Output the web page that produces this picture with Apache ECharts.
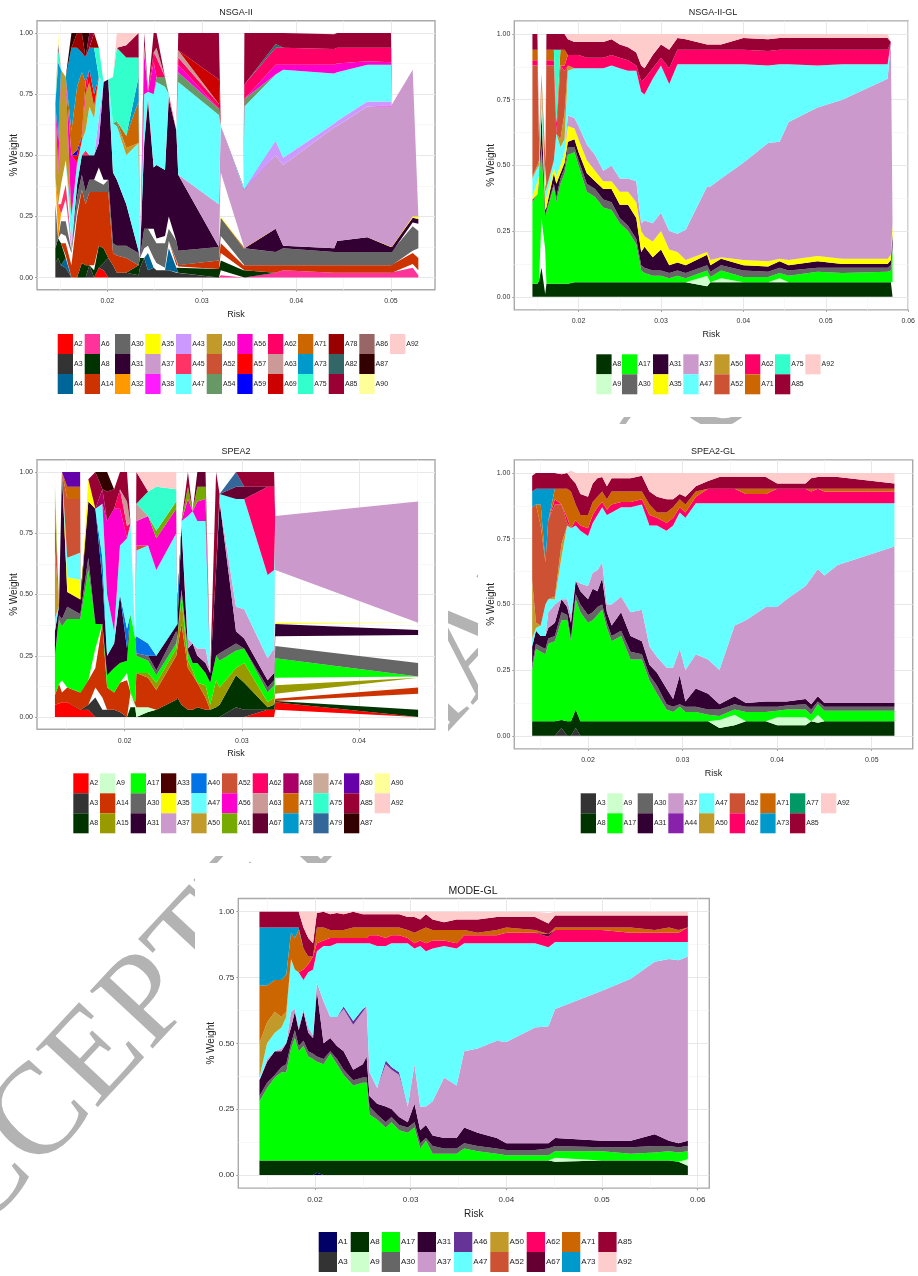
<!DOCTYPE html>
<html><head><meta charset="utf-8"><style>html,body{margin:0;padding:0;background:#fff}#c{width:918px;height:1276px}#c canvas{filter:blur(.4px)}</style>
<script src="https://cdn.jsdelivr.net/npm/echarts@6/dist/echarts.min.js"></script></head><body><div id="c"></div>
<script>
const colors={A1:'#000066',A2:'#ff0000',A3:'#333333',A4:'#006699',A6:'#ff3399',A8:'#003300',A9:'#ccffcc',A14:'#cc3300',A15:'#999900',A17:'#00ff00',A30:'#666666',A31:'#330033',A32:'#ff9900',A33:'#4d0000',A35:'#ffff00',A37:'#cc99cc',A38:'#ff1aff',A40:'#0073e6',A43:'#cc99ff',A44:'#8822aa',A45:'#ff3366',A46:'#663399',A47:'#66ffff',A50:'#c29a29',A52:'#cc5233',A54:'#669966',A56:'#ff00cc',A57:'#ff0000',A59:'#0000ff',A61:'#77aa00',A62:'#ff0066',A63:'#cc9999',A67:'#660033',A68:'#aa0066',A69:'#cc0000',A71:'#cc6600',A73:'#0099cc',A74:'#ccaa99',A75:'#33ffcc',A77:'#009966',A78:'#990000',A79:'#336699',A80:'#6600aa',A82:'#336666',A85:'#990033',A86:'#996666',A87:'#330000',A90:'#ffff99',A92:'#ffcccc'};
// x in 0.001 risk units, band thickness in percent. Objects are index:value lists of the non-zero points.
// NSGA-II
const n_x=[14.5,14.8,15.1,15.6,16.2,16.8,17.3,17.7,18.1,18.6,19.1,19.6,20.1,20.6,21,22,23.3,23.45,23.9,24.3,24.9,25.2,26.1,26.5,27.3,27.5,31.8,32,34.4,34.5,37.8,38.6,44,44.3,47.5,50,50.1,52.3,52.9];
const n_A2={10:4,11:3};
const n_A3={0:6,1:8,2:5,3:4,8:5,11:3,12:8,13:5,14:2,15:2,16:1,17:4,18:8,19:3,20:4,21:3,22:3,23:3,24:2,25:2};
const n_A4={3:4,19:7,23:9,24:2};
const n_A6={27:1,30:2,31:3,32:2,33:2,34:2,35:2,36:2,37:4,38:1};
const n_g0={27:2};
const n_A8={0:6,1:8,2:9,6:6,7:5,9:3,10:9,11:6,16:4,17:4,25:2.5,26:3.5,27:4,28:3,29:3};
const n_g1={3:1,9:2,18:4,19:3,20:4,21:3,22:1,23:3,24:1,27:3,37:1.5,38:2};
const n_A14={3:5,4:5,5:25,6:30,7:25,8:30,9:30,10:22,11:23,12:27,13:5,14:7,15:6,25:.5,26:3.5,27:4,28:2,29:2,30:3,31:2,32:3,33:3,34:3,35:3,36:3,37:4.5,38:5};
const n_g2={2:4,3:3,4:5,5:2,27:3,37:1,38:4};
const n_A30={0:18,2:5,3:6,4:1,5:6,6:6,7:5,8:5,9:5,10:4,11:3,12:5,13:4,14:4,15:5,16:5,18:8,19:7,20:8,21:8,22:10,23:5,24:10,25:6,26:5.5,27:7.5,28:7,29:7,30:5.5,31:7,32:5.5,33:5.5,34:5.5,35:5.5,36:5.5,37:10,38:7};
const n_g3={0:11,2:3,3:9,10:6,11:2,20:4,21:2,22:3,23:5,37:1.5,38:3};
const n_A31={5:5,6:8,7:15,8:10,9:10,10:10,11:40,12:41,13:29,14:27,15:17,16:1,18:35,19:52,20:25,21:30,22:27,23:48,24:45,25:31,30:9.5,31:1,32:1.5,33:4.5,34:6,35:2,36:2,37:2,38:2};
const n_A32={1:14};
const n_A35={27:.5,28:.5,37:.5,38:1};
const n_g5={27:18};
const n_A37={26:17.5,27:19,28:23.5,29:24,30:30,31:33,32:49.5,33:47,34:53.5,35:57.5,36:58,37:60};
const n_A38={};
const n_A43={4:3,10:10,30:6,31:3,32:1.5,33:2,34:2,35:2};
const n_A45={2:4,3:6,7:2,19:2,23:2};
const n_g4={2:8,3:10};
const n_A47={4:11,5:8,6:6,7:8,8:20,9:15,10:17,13:20,14:22,15:20,16:44,18:20,19:2,20:30,21:34,22:34,25:38,26:36.5,29:34,30:27,31:36,32:20.5,33:20,34:15,35:15};
const n_A50={0:30,1:12,2:47,3:34,7:15,8:10,9:5,15:3};
const n_A52={};
const n_A54={5:1,14:2,21:2,22:4,25:4,26:2.5,29:3};
const n_A56={1:14,4:25,18:17,20:13,25:3,30:4,31:2,32:3.5,33:3.5,34:1.5,35:1};
const n_A57={5:3,6:2,8:5,9:5};
const n_A59={5:2};
const n_A62={7:5,20:4,21:8,25:3,26:2,29:6,30:7,31:7,32:6.5,33:6.5,34:5.5,35:6};
const n_A63={18:3,21:4,25:3};
const n_A69={26:10};
const n_A71={4:10,5:26,6:26,15:5,16:17};
const n_A73={1:32,4:34,5:16,6:8,7:10,8:9,9:19,16:10};
const n_A75={1:5,10:12,13:19,14:30,15:32,16:8};
const n_A78={5:6,6:8,9:6};
const n_A82={30:1.5};
const n_A85={8:6,15:5,16:10,18:5,20:8,21:6,25:7,26:19,29:21,30:4.5,31:6,32:6,33:6,34:6,35:6};
const n_A86={1:3};
const n_A87={4:6,7:10};
const n_A90={1:4};
const n_A92={14:6,15:5};
// NSGA-II-GL
const g_x=[14.4,15,15.2,15.5,15.95,16.1,17,17.3,17.8,18.3,18.7,19.5,20,21,22,23,24,25,26,27,27.6,28,29,30,31,32,33,35.6,36,37.3,40,43,44.4,45.5,49,52,57.5,57.9,58.1];
const g_A8=[5,5,6,11,1,5,5,5,5,5,5,5.5,5.5,5.5,5.5,5.5,5.5,5.5,5.5,5.5,5.5,5.5,5.5,5.5,5.5,5.5,5.5,4,5.5,5.5,5.5,5.5,5.5,5.5,5.5,5.5,5.5,5.5,5.5];
const g_g={3:19,4:17};
const g_A9={27:4,29:1.5,32:1.5};
const g_A17=[31,34,36,26,12,27,37,31,38,42,49,49.5,44.5,34.5,32.5,28.5,27.5,22.5,19.5,14.5,4.5,3.5,2.5,2.5,1.5,2.5,1.5,2,2,3,2,2,2,2.5,4,3.5,4,4.5,12.5];
const g_A30=[1,0,1,2,1,1,1,2,2,2,3,2,2,3,3,3,3,2,2,2,2,2,2,2,2,2,2,2,2,2,2.5,2,2,2,1.5,2,1.5,2,1];
const g_A31=[0,0,1,12,2,1,4,5,2,2,2,3,3,4,3,4,5,5,8,8,5,8,5,8,3,3,3,4,2.5,2.5,2,2,2.5,2,2.5,1.5,1.5,2,5];
const g_A35=[1,5,2,2,4,4,2,3,3,4,6,4,5,5,4,3,3,5,5,6,8,4,6,7,6,4,2,1,2,.5,2,2,1,2,2,2,2,2,4];
const g_A37=[0,0,0,0,0,0,0,0,0,0,4,4,5,6,6,4,6,5,5,8,3,6,7,7,7,7,11.5,25,28,30,37,45,44.5,52.5,56.5,60.5,68.5,81,69];
const g_A47=[7,5,4,8,3,3,3,16,7,5,17,19,22,29,33,39,38,42,41,42,50,48,55,56,56,64.5,63,46.5,46.5,43.5,37.5,29.5,29.5,22,16,13.5,5.5,0,0];
const g_A50={0:1,1:1,2:2,3:5,4:2,5:1,8:3,9:10,10:2};
const g_A52={0:42,1:38,2:8,5:46,6:36,8:28,9:16};
const g_A62=[2,2,0,0,0,2,2,4,0,2,4,5,5,4,4,4,4,4,4,2,4,6,4,3,6,5.5,5.5,5.5,5.5,5.5,5.5,5.5,5.5,5.5,6,5.5,5.5];
const g_A71={0:4,1:4,5:4,6:4,8:6,9:6};
const g_A75={7:28};
const g_A85=[6,6,0,0,0,6,6,6,6,6,6,5,5,6,6,6,6,5,5,5,6,4,5,5,7,4.5,4,2,2,2,4.5,4.5,4.5,4.5,4.5,4.5,4.5];
const g_A92=[0,0,0,0,0,0,0,0,0,0,2,3,3,3,3,3,2,4,5,7,12,13,8,4,6,1.5,2,4,4,4,1.5,1.5,1.5,1.5,1.5,1.5,1.5];
// SPEA2
const s_x=[14.05,14.4,14.65,15.1,16.2,16.25,16.9,17.5,18.1,18.5,19.1,19.6,20.2,20.5,20.9,21,22,22.7,24.4,24.5,24.85,25.4,25.8,26.2,26.9,27.3,27.8,28.1,29.5,30.2,32.2,32.75,32.85,45.04];
const s_g0={32:3};
const s_A2={0:5,1:5.5,2:6,3:6,4:3.5,5:3,6:3,30:3,31:3,32:3};
const s_A3={6:2,7:8,8:3,9:3,10:3,11:2,28:4,29:3};
const s_A8={13:4,14:4,16:2,17:3,18:7,19:8,20:5,21:3,22:3,23:4,24:3,25:3,26:4,27:5,28:13,29:11,30:1,31:2,32:.5,33:3};
const s_g1={7:4,8:5,13:3,33:6.5};
const s_A9={13:3,14:1,15:4,16:2};
const s_A14={0:4,1:8,2:4,3:6,4:6.5,5:7,6:10,7:8,8:30,9:9,10:7,11:12,12:15,14:1,15:14,16:12,17:8,18:18,19:20,20:33,21:17,22:14,23:10,24:5,32:1,33:2.5};
const s_g2={2:5,32:2,33:4};
const s_A15={16:2,17:3,18:3,19:5,20:10,21:3,22:2,24:5,25:2,26:11,27:7,28:3,29:8,30:2,31:3,32:3.5};
const s_g3={7:8,12:3,32:3};
const s_A17={0:16,1:26,2:22,3:28,4:30,5:31,6:45,7:10,9:5,10:10,11:8,12:5,13:32,14:26,15:7,16:5,17:3,18:2,20:4,21:3,22:3,23:8,24:5,25:9,26:10,27:11,28:7,29:6,30:4,31:5,32:8,33:.5};
const s_A30={1:2,2:3,3:5,4:2,5:2,6:5,15:1,16:2,17:2,18:5,21:1,27:3,28:3,30:2,31:2,32:5,33:5.5};
const s_g5={32:4,33:11.5};
const s_A31={0:10,1:4,2:60,3:6,4:6,5:5,6:23,7:47,8:18,9:8,10:10,11:28,12:5,17:6,18:3,19:5,20:26,21:1,22:8,23:3,24:4,25:4,26:35,27:62,28:5,29:4,30:3,31:3,32:5,33:2};
const s_A33={};
const s_g4={33:2.5};
const s_A35={3:6,4:8,6:9,32:.5,33:.5};
const s_g6={32:21.5};
const s_A37={21:4,23:3,24:6,28:10,29:12,30:9,31:10,32:22,33:49.5};
const s_A40={8:9,12:8,15:7,16:5};
const s_A47={0:5,3:8,4:11,8:22,9:25,10:5,11:20,12:37,13:37,15:35,16:40,17:35,18:37,20:2,21:50,22:54,23:52,24:52,27:3,28:44,29:45,30:34,31:32};
const s_A50={0:28};
const s_A52={0:17,3:24,4:22,15:2};
const s_A56={9:30,10:50,11:15,15:10,16:12,17:13,18:10,21:7,23:8,24:9};
const s_A61={0:9,17:3,18:3,21:5,23:6,24:5};
const s_A62={11:8,12:5,30:36,31:34};
const s_A63={12:10,15:7};
const s_A67={23:6,24:6,28:5,29:5};
const s_A68={8:6};
const s_A71={3:5,4:5};
const s_A73={};
const s_A74={};
const s_A75={16:10,17:18,18:5};
const s_A79={28:6};
const s_A80={3:6,4:6};
const s_A85={7:15,9:12,10:8,11:7,12:12,15:13,21:6,26:40,29:6,30:6,31:6};
const s_A87={8:7,9:8};
const s_A90={0:6};
const s_A92={16:8,17:6,18:7};
// SPEA2-GL
const t_x=[14.1,14.5,15,15.5,15.8,16.5,17.2,17.8,18.2,18.7,19.2,20,20.5,21,21.5,22,22.5,23.5,24.5,25.7,26.5,27.3,28.3,29,29.7,30.3,31.4,32.7,33.9,35.5,36.7,38.8,40,41,43,43.6,44.3,45,46.4,52.4];
const t_A3={6:3,9:3};
const t_A8=[5.5,5.5,5.5,5.5,5.5,5.5,3,5.5,5.5,7,5.5,5.5,5.5,5.5,5.5,5.5,5.5,5.5,5.5,5.5,5.5,5.5,5.5,5.5,5.5,5.5,5.5,5.5,3,4,5.5,5.5,4,4,4,5.5,5,5.5,5.5,5.5];
const t_A9={28:3,29:4,32:3,33:3,34:3,36:3};
const t_A17=[19.5,27.5,26.5,25.5,29.5,30.5,38,38.5,30.5,42,41.5,37.5,38.5,40.5,42.5,35.5,30.5,32.5,23.5,23.5,15.5,10.5,4.5,3.5,5.5,3.5,3.5,2.5,1.5,2,3.5,3.5,2.5,3,3,2.5,4,4,4,4];
const t_A30=[2,2,2,2,2,2,3,2,1,2,3,3,3,3,2,2,2,2,3,2,2,3,2,2,1,2,2,2,2.5,2,2,2,1.5,1.5,2,2,1,1.5,1.5,1.5];
const t_A31=[7,5,4,5,4,5,5,3,6,5,5,6,9,6,10,4,4,7,6,5,4,5,6,3,11,2,7,6,2,3,1.5,2,2,1.5,2,2,2,1.5,1.5,1.5];
const t_A37=[0,0,0,0,6,7,0,3,3,0,3,5,6,8,6,3,8,6,9,12,7,6,8,12,10,12,13,13,13,27,31.5,36,36,39,43,48,48.5,48.5,52.5,59.5];
const t_A44={};
const t_A47=[3,1,4,12,5,2,16,28,33,21,20,19,19,21,21,34,35,34,40,40,46,50,52,54,52,58,57.5,59.5,63.5,46.5,44.5,39.5,39.5,36.5,31.5,28.5,25,27.5,23.5,16.5];
const t_A50={0:22,1:2,5:1,6:5};
const t_A52={0:28,1:45,2:38,3:16,4:30,5:35,6:15,7:1};
const t_A62=[0,0,0,0,0,2,0,2,0,2,2,3,3,3,2,2,3,2,2,2,4,3,3,3,2,2,2.5,5.5,5.5,5.5,3.5,3.5,5.5,5.5,5.5,4.5,5.5,4.5,4.5,4.5];
const t_A71=[0,0,8,0,0,4,6,11,14,6,4,5,5,4,4,4,5,4,4,3,4,2,4,4,3,3,2,0,0,0,2,2,0,0,0,1,0,1,1,1];
const t_A73={0:6,1:6,2:6,3:28,4:12};
const t_A77={};
const t_A85=[6,6,6,6,6,6,5.5,6,5,8,8,7,7,7,5.5,5,5,5,5,6,5,6,5,3,2,3,2,3,4.5,4.5,4.5,4.5,2,2,2,4,4.5,4.5,4.5,2];
const t_A92=[0,0,0,0,0,0,.5,0,3,4,8,9,4,2,1.5,5,2,2,2,1,7,9,10,10,8,9,5,3,1.5,1.5,1.5,1.5,4,4,4,2,1.5,1.5,1.5,4];
// MODE-GL
const m_x=[14.2,15,15.8,16.5,17,17.5,17.9,18.3,18.8,19.3,19.8,20.2,20.9,21.6,22.3,23,24,25,25.4,25.7,26.5,27.4,28,28.8,29.7,30.4,31,31.6,32.3,33.5,34.8,35.6,37,39,40,43,44.4,45.1,50,53,55.5,57,58,58.97];
const m_A1={11:.8};
const m_A3={};
const m_A8=[5.5,5.5,5.5,5.5,5.5,5.5,5.5,5.5,5.5,5.5,5.5,4.7,5.5,5.5,5.5,5.5,5.5,5.5,5.5,5.5,5.5,5.5,5.5,5.5,5.5,5.5,5.5,5.5,5.5,5.5,5.5,5.5,5.5,5.5,5.5,5.5,5.5,5,5.5,5.5,5.5,5.5,5,3.5];
const m_A9={37:1.5,43:2.5};
const m_A17=[22.5,27.5,31.5,33.5,33.5,42.5,46.5,41.5,43.5,39.5,38.5,37.5,36.5,40.5,36.5,32.5,28.5,29.5,29.5,17.5,15.5,12.5,14.5,11.5,10.5,12.5,4.5,7.5,2.5,2.5,2.5,4.5,3.5,2.5,2,2,2,2.5,3.5,2.5,3,3.5,3.5,3];
const m_A30=[2,2,1,2,3,2,3,2,2,2,2,2,2,1,2,2,2,2,2,3,2,2,2,2,2,2,2,1,3,2,2,2,2,2,2,2,2.5,2,1.5,2.5,2.5,2,2,2];
const m_A31=[6,8,9,6,8,6,7,6,11,7,6,25,6,5,5,7,4,5,8,4,4,6,3,3,2,7,5,5,4,4,4,6,5,4,2.5,2.5,2,3,2.5,2.5,4.5,2,1.5,2];
const m_A37=[0,1,0,1,0,6,1,1,1,2,1,3,16,8,11,16,17,20,19,9,6,16,15,16,6,15,9,7,13,23,20,29,32,37,38.5,44,44.5,49,57,61.5,65.5,69,69.5,70];
const m_A46={15:1,16:1.5,17:1,21:1.5,22:1,23:1};
const m_A47=[1,6,7,8,10,20,15,21,11,21,25,12,21,27,28,24,29.5,25,24,49,54,43.5,47,49,62,44,61,59,58,50,52,41,40,37,37.5,32,30,25.5,18.5,14,7.5,6.5,7,5.5];
const m_A50={0:13,1:8,2:8,3:4,4:2};
const m_A52={};
const m_A62=[0,0,0,0,0,0,0,0,4,3,5,3,2,3,2,2,2,2,2,3,4,3,3,3,2,2,2,3,3,2,2,3,3,3,4,4,4,4.5,4.5,3.5,3.5,3.5,3.5,5.5];
const m_A67={36:1};
const m_A71=[22,14,12,14,14,10,12,16,8,3,0,6,5,3,3,3,4,4,4,3,3,4,3,3,3,4,4,6,4,4,5,2,1,2,2,1,0,1,1,2,1,2,1,0];
const m_A73={0:22,1:22,2:20,3:20,4:18,5:2,6:4,7:1};
const m_A85=[6,6,6,6,6,6,6,6,8,7,5,5.5,6,6,6.5,6,6,5,5,5,5,5,5,5,5,6,4,5,4,3,4,4,5,5,4,5,4,4.5,4.5,4.5,5.5,4.5,5.5,4.5];
const m_A92=[0,0,0,0,0,0,0,0,6,10,12,.5,0,1,.5,1,0,1,1,1,1,1,1,1,2,2,3,1,3,4,3,3,3,2,2,2,4,1.5,1.5,1.5,1.5,1.5,1.5,1.5];

const panels=[
{title:'NSGA-II',x:n_x,range:[.01256,.05466],ticks:[.02,.03,.04,.05],minor:[.015,.025,.035,.045],box:[37,20.8,398,269],tc:[236,12],fs:[9,7,9,7],sw:15.3,legTop:334,yGap:18,
 layers:[['A2',n_A2],['A3',n_A3],['A4',n_A4],['A6',n_A6],['gap',n_g0],['A8',n_A8],['gap',n_g1],['A14',n_A14],['gap',n_g2],['A30',n_A30],['gap',n_g3],['A31',n_A31],['A32',n_A32],['A35',n_A35],['gap',n_g5],['A37',n_A37],['A38',n_A38],['A43',n_A43],['A45',n_A45],['gap',n_g4],['A47',n_A47],['A50',n_A50],['A52',n_A52],['A54',n_A54],['A56',n_A56],['A57',n_A57],['A59',n_A59],['A62',n_A62],['A63',n_A63],['A69',n_A69],['A71',n_A71],['A73',n_A73],['A75',n_A75],['A78',n_A78],['A82',n_A82],['A85',n_A85],['A86',n_A86],['A87',n_A87],['A90',n_A90],['A92',n_A92]],
 legend:[['A2','A3','A4'],['A6','A8','A14'],['A30','A31','A32'],['A35','A37','A38'],['A43','A45','A47'],['A50','A52','A54'],['A56','A57','A59'],['A62','A63','A69'],['A71','A73','A75'],['A78','A82','A85'],['A86','A87','A90'],['A92']],
 legX:[57.7,84.7,115,145.3,176,206.7,237.3,268,298,328.7,359.3,390]},
{title:'NSGA-II-GL',x:g_x,range:[.0122,.06],ticks:[.02,.03,.04,.05,.06],minor:[.015,.025,.035,.045,.055],box:[514.3,20.9,396.7,289],tc:[713,12],fs:[9,7,9,7],sw:15.3,legTop:354.3,yGap:18,
 layers:[['A8',g_A8],['gap',g_g],['A9',g_A9],['A17',g_A17],['A30',g_A30],['A31',g_A31],['A35',g_A35],['A37',g_A37],['A47',g_A47],['A50',g_A50],['A52',g_A52],['A62',g_A62],['A71',g_A71],['A75',g_A75],['A85',g_A85],['A92',g_A92]],
 legend:[['A8','A9'],['A17','A30'],['A31','A35'],['A37','A47'],['A50','A52'],['A62','A71'],['A75','A85'],['A92']],
 legX:[596.3,622,653,683.3,714.3,745,775,805.3]},
{title:'SPEA2',x:s_x,range:[.01252,.04648],ticks:[.02,.03,.04],minor:[.015,.025,.035,.045],box:[37,459.75,398,269.5],tc:[236,451],fs:[9,7,9,7],sw:15.3,legTop:773.3,yGap:18,
 layers:[['gap',s_g0],['A2',s_A2],['A3',s_A3],['A8',s_A8],['gap',s_g1],['A9',s_A9],['A14',s_A14],['gap',s_g2],['A15',s_A15],['gap',s_g3],['A17',s_A17],['A30',s_A30],['gap',s_g5],['A31',s_A31],['A33',s_A33],['gap',s_g4],['A35',s_A35],['gap',s_g6],['A37',s_A37],['A40',s_A40],['A47',s_A47],['A50',s_A50],['A52',s_A52],['A56',s_A56],['A61',s_A61],['A62',s_A62],['A63',s_A63],['A67',s_A67],['A68',s_A68],['A71',s_A71],['A73',s_A73],['A74',s_A74],['A75',s_A75],['A79',s_A79],['A80',s_A80],['A85',s_A85],['A87',s_A87],['A90',s_A90],['A92',s_A92]],
 legend:[['A2','A3','A8'],['A9','A14','A15'],['A17','A30','A31'],['A33','A35','A37'],['A40','A47','A50'],['A52','A56','A61'],['A62','A63','A67'],['A68','A71','A73'],['A74','A75','A79'],['A80','A85','A87'],['A90','A92']],
 legX:[73.3,100,130.7,161,191.3,222,252.7,283.3,313.3,344,374.7]},
{title:'SPEA2-GL',x:t_x,range:[.01221,.05433],ticks:[.02,.03,.04,.05],minor:[.015,.025,.035,.045],box:[514.3,459.9,398.4,289],tc:[713,451],fs:[9,7,9,7],sw:15.3,legTop:793.3,yGap:18,
 layers:[['A3',t_A3],['A8',t_A8],['A9',t_A9],['A17',t_A17],['A30',t_A30],['A31',t_A31],['A37',t_A37],['A44',t_A44],['A47',t_A47],['A50',t_A50],['A52',t_A52],['A62',t_A62],['A71',t_A71],['A73',t_A73],['A77',t_A77],['A85',t_A85],['A92',t_A92]],
 legend:[['A3','A8'],['A9','A17'],['A30','A31'],['A37','A44'],['A47','A50'],['A52','A62'],['A71','A73'],['A77','A85'],['A92']],
 legX:[580.7,607.3,637.7,668.3,699,729.7,760.3,790,821]},
{title:'MODE-GL',x:m_x,range:[.01199,.06121],ticks:[.02,.03,.04,.05,.06],minor:[.015,.025,.035,.045,.055],box:[238.3,898.5,471,289.6],tc:[473,890],fs:[10.5,8,10,8],sw:18.3,legTop:1232,yGap:22,
 layers:[['A1',m_A1],['A3',m_A3],['A8',m_A8],['A9',m_A9],['A17',m_A17],['A30',m_A30],['A31',m_A31],['A37',m_A37],['A46',m_A46],['A47',m_A47],['A50',m_A50],['A52',m_A52],['A62',m_A62],['A67',m_A67],['A71',m_A71],['A73',m_A73],['A85',m_A85],['A92',m_A92]],
 legend:[['A1','A3'],['A8','A9'],['A17','A30'],['A31','A37'],['A46','A47'],['A50','A52'],['A62','A67'],['A71','A73'],['A85','A92']],
 legX:[318.7,350.7,381.7,417.7,454,490.3,526.7,562,598.3]}
];
const yTicks=[0,.25,.5,.75,1], yMinor=[.125,.375,.625,.875];
const FONT='"Liberation Sans",Arial,sans-serif';
const option={animation:false,backgroundColor:'#fff',title:[],grid:[],xAxis:[],yAxis:[],series:[],legend:[],tooltip:{show:false},
 graphic:{elements:[
  {type:'text',x:-112,y:1282,rotation:47*Math.PI/180,z:-30,silent:true,style:{text:'ACCEPTED MANUSCRIPT',fontSize:130,fontFamily:'"Liberation Serif",serif',fill:'#b3b3b3',textAlign:'left',textVerticalAlign:'middle'}},
  {type:'rect',z:-20,silent:true,shape:{x:0,y:0,width:448,height:856},style:{fill:'#fff'}},
  {type:'rect',z:-20,silent:true,shape:{x:448,y:0,width:470,height:417},style:{fill:'#fff'}},
  {type:'rect',z:-20,silent:true,shape:{x:478,y:424,width:440,height:460},style:{fill:'#fff'}},
  {type:'rect',z:-20,silent:true,shape:{x:195,y:863,width:723,height:413},style:{fill:'#fff'}}
 ]}};
panels.forEach((p,i)=>{
 const [l,t,w,h]=p.box, [fT,fTick,fName,fLeg]=p.fs;
 option.title.push({text:p.title,left:p.tc[0],top:p.tc[1]-fT/2+.5,textAlign:'center',padding:0,textStyle:{fontFamily:FONT,fontSize:fT,fontWeight:'normal',color:'#222'}});
 option.grid.push({left:l,top:t,width:w,height:h,show:true,backgroundColor:'#fff',borderColor:'#a9a9a9',borderWidth:1.4,containLabel:false,z:0});
 const gi=option.xAxis.length;
 const lab={fontFamily:FONT,fontSize:fTick,color:'#333'};
 option.xAxis.push({type:'value',gridIndex:i,min:p.range[0],max:p.range[1],position:'bottom',name:'Risk',nameLocation:'middle',nameGap:fName+11,nameMoveOverlap:false,nameTextStyle:{fontFamily:FONT,fontSize:fName,color:'#222'},
  axisLine:{show:false,onZero:false},axisTick:{show:true,length:2,lineStyle:{color:'#7f7f7f',width:.7},customValues:p.ticks},axisLabel:{show:true,customValues:p.ticks,margin:8,formatter:v=>v.toFixed(2),...lab},splitLine:{show:true,lineStyle:{color:'#e8e8e8',width:1}}});
 option.yAxis.push({type:'value',gridIndex:i,min:-.05,max:1.05,name:'% Weight',nameLocation:'middle',nameGap:p.yGap,nameMoveOverlap:false,nameTextStyle:{fontFamily:FONT,fontSize:10,color:'#222'},
  axisLine:{show:false,onZero:false},axisTick:{show:true,length:2,lineStyle:{color:'#7f7f7f',width:.7},customValues:yTicks},axisLabel:{show:true,customValues:yTicks,margin:4,formatter:v=>v.toFixed(2),...lab},splitLine:{show:true,lineStyle:{color:'#e8e8e8',width:1}}});
 option.xAxis.push({type:'value',gridIndex:i,min:p.range[0],max:p.range[1],axisLine:{show:false,onZero:false},axisTick:{show:false,customValues:p.minor},axisLabel:{show:false},splitLine:{show:true,lineStyle:{color:'#f3f3f3',width:.7}}});
 option.yAxis.push({type:'value',gridIndex:i,min:-.05,max:1.05,axisLine:{show:false,onZero:false},axisTick:{show:false,customValues:yMinor},axisLabel:{show:false},splitLine:{show:true,lineStyle:{color:'#f3f3f3',width:.7}}});
 p.layers.forEach(([name,vals])=>{
  const gap=name==='gap', c=gap?'#ffffff':colors[name];
  option.series.push({type:'line',name,stack:'panel'+i,stackStrategy:'all',xAxisIndex:gi,yAxisIndex:gi,silent:true,symbol:'none',showSymbol:false,
   color:c,lineStyle:{width:0},itemStyle:{color:c},areaStyle:{color:c,opacity:gap?0:1},
   encode:{x:1,y:0},
   data:p.x.map((x,k)=>[(vals[k]||0)/100,x/1000])});
 });
 p.legend.forEach((names,k)=>{
  option.legend.push({orient:'vertical',left:p.legX[k],top:p.legTop,padding:0,itemGap:0,itemWidth:p.sw,itemHeight:20,icon:'rect',selectedMode:false,data:names,itemStyle:{borderWidth:0},
   textStyle:{fontFamily:FONT,fontSize:fLeg,color:'#222',padding:[0,0,0,-4]}});
 });
});
const chart=echarts.init(document.getElementById('c'),null,{width:918,height:1276});
chart.setOption(option);
</script></body></html>
